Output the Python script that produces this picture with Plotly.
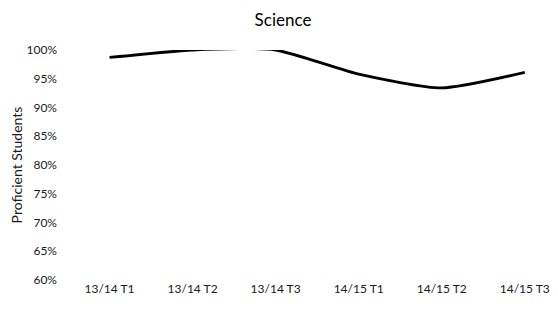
import plotly.graph_objects as go

categories = ["13/14 T1", "13/14 T2", "13/14 T3", "14/15 T1", "14/15 T2", "14/15 T3"]
proficient = [0.987, 1.0, 1.0, 0.958, 0.934, 0.961]
y_ticks = [0.60, 0.65, 0.70, 0.75, 0.80, 0.85, 0.90, 0.95, 1.00]

font_family = "Lato, 'Open Sans', sans-serif"

fig = go.Figure()
fig.add_trace(go.Scatter(
    x=list(range(len(categories))),
    y=proficient,
    mode="lines",
    line=dict(color="#000000", width=2.8, shape="spline", smoothing=0.6),
    showlegend=False,
))

# page body has an 8px default margin, so the figure is sized to fill the rest
fig.update_layout(
    width=550, height=301,
    margin=dict(l=60, r=0, t=42, b=29),
    paper_bgcolor="white", plot_bgcolor="white",
    font=dict(family=font_family, color="#1a1a1a", size=12),
    title=dict(text="Science", x=0.5, xref="container", y=0.96, yref="container",
               xanchor="center", yanchor="middle",
               font=dict(size=17, family=font_family, color="#000000")),
    xaxis=dict(
        range=[-0.5, 5.4],
        tickmode="array",
        tickvals=list(range(len(categories))),
        ticktext=categories,
        showgrid=False, zeroline=False, showline=False,
        ticks="", tickfont=dict(size=12),
    ),
    yaxis=dict(
        range=[0.60, 1.00],
        tickmode="array",
        tickvals=y_ticks,
        ticktext=[f"{int(round(v*100))}%" for v in y_ticks],
        showgrid=False, zeroline=False, showline=False,
        ticks="", tickfont=dict(size=12),
        ticklabelstandoff=10,
        title=dict(text="Proficient Students", font=dict(size=14), standoff=2),
    ),
)

fig.write_html("out.html")
